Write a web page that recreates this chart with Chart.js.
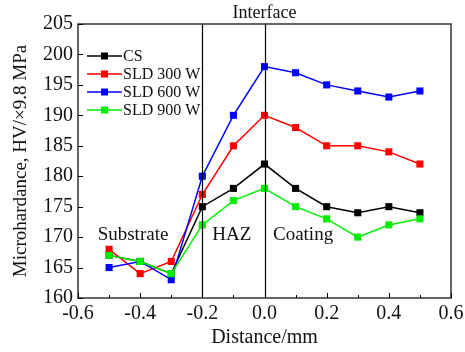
<!DOCTYPE html>
<html>
<head>
<meta charset="utf-8">
<script src="https://cdn.jsdelivr.net/npm/chart.js@4.4.0/dist/chart.umd.min.js"></script>
<style>
  html, body { margin: 0; padding: 0; background: #fff; }
  #wrap { width: 465px; height: 352px; }
</style>
</head>
<body>
<div id="wrap"><canvas id="chart" width="465" height="352"></canvas></div>
<script>
const distances = [-0.5, -0.4, -0.3, -0.2, -0.1, 0.0, 0.1, 0.2, 0.3, 0.4, 0.5];
const csValues = [167, 166, 164, 175, 178, 182, 178, 175, 174, 175, 174];
const sld300Values = [168, 164, 166, 177, 185, 190, 188, 185, 185, 184, 182];
const sld600Values = [165, 166, 163, 180, 190, 198, 197, 195, 194, 193, 194];
const sld900Values = [167, 166, 164, 172, 176, 178, 175, 173, 170, 172, 173];
const seriesNames = ['CS', 'SLD 300 W', 'SLD 600 W', 'SLD 900 W'];
const seriesColors = ['#000000', '#ff0000', '#0000ff', '#00ee00'];
const boundaries = [-0.2, 0.0];

const FONT = '"Liberation Serif", "Times New Roman", serif';

function toPoints(vals) {
    return vals.map((v, i) => ({ x: distances[i], y: v }));
}

const allValues = [csValues, sld300Values, sld600Values, sld900Values];

// frame, inward ticks, boundary lines, region labels, legend
const decorations = {
    id: 'decorations',
    afterDatasetsDraw(chart) {
        const ctx = chart.ctx;
        const a = chart.chartArea;
        const xs = chart.scales.x;
        const ys = chart.scales.y;
        ctx.save();

        // boundary lines
        ctx.strokeStyle = '#000';
        ctx.lineWidth = 1.2;
        boundaries.forEach(b => {
            const px = Math.round(xs.getPixelForValue(b)) + 0.5;
            ctx.beginPath();
            ctx.moveTo(px, a.top);
            ctx.lineTo(px, a.bottom);
            ctx.stroke();
        });

        // frame
        ctx.strokeStyle = '#333';
        ctx.lineWidth = 1.5;
        ctx.strokeRect(a.left, a.top, a.right - a.left, a.bottom - a.top);

        // inward ticks
        ctx.strokeStyle = '#000';
        ctx.lineWidth = 1;
        for (let v = -0.6; v <= 0.601; v += 0.1) {
            const px = Math.round(xs.getPixelForValue(v)) + 0.5;
            const major = Math.abs(Math.round(v * 10)) % 2 === 0;
            ctx.beginPath();
            ctx.moveTo(px, a.bottom);
            ctx.lineTo(px, a.bottom - (major ? 5 : 3));
            ctx.stroke();
        }
        for (let v = 160; v <= 205; v += 5) {
            const py = Math.round(ys.getPixelForValue(v)) + 0.5;
            ctx.beginPath();
            ctx.moveTo(a.left, py);
            ctx.lineTo(a.left + 5, py);
            ctx.stroke();
        }

        // region labels
        ctx.fillStyle = '#111';
        ctx.font = '19px ' + FONT;
        ctx.textAlign = 'center';
        ctx.textBaseline = 'middle';
        ctx.fillText('Substrate', xs.getPixelForValue(-0.423), ys.getPixelForValue(170.3));
        ctx.fillText('HAZ', xs.getPixelForValue(-0.105), ys.getPixelForValue(170.3));
        ctx.fillText('Coating', xs.getPixelForValue(0.124), ys.getPixelForValue(170.3));
        ctx.font = '18px ' + FONT;
        ctx.textBaseline = 'alphabetic';
        ctx.fillText('Interface', xs.getPixelForValue(0.0), a.top - 6);

        // legend
        ctx.font = '16px ' + FONT;
        ctx.textAlign = 'left';
        ctx.textBaseline = 'middle';
        seriesNames.forEach((name, i) => {
            const y = a.top + 32 + i * 18;
            const x0 = a.left + 9;
            ctx.strokeStyle = seriesColors[i];
            ctx.lineWidth = 1.5;
            ctx.beginPath();
            ctx.moveTo(x0, y);
            ctx.lineTo(x0 + 35, y);
            ctx.stroke();
            ctx.fillStyle = seriesColors[i];
            ctx.fillRect(x0 + 14, y - 3.5, 7, 7);
            ctx.fillStyle = '#111';
            ctx.fillText(name, x0 + 36, y + 1);
        });

        ctx.restore();
    }
};

new Chart(document.getElementById('chart').getContext('2d'), {
    type: 'scatter',
    data: {
        datasets: seriesNames.map((name, i) => ({
            label: name,
            data: toPoints(allValues[i]),
            showLine: true,
            borderColor: seriesColors[i],
            backgroundColor: seriesColors[i],
            borderWidth: 1.5,
            pointStyle: 'rect',
            pointRadius: 5,
            pointBorderWidth: 0,
            tension: 0,
            order: seriesNames.length - 1 - i
        }))
    },
    options: {
        responsive: false,
        animation: false,
        layout: { padding: { top: 24, right: 14, left: 0, bottom: 0 } },
        plugins: {
            legend: { display: false },
            tooltip: { enabled: false }
        },
        scales: {
            x: {
                type: 'linear',
                min: -0.6,
                max: 0.6,
                grid: { display: false, drawTicks: false },
                border: { display: false },
                ticks: {
                    stepSize: 0.2,
                    padding: 4,
                    color: '#111',
                    font: { family: FONT, size: 20 },
                    callback: v => v.toFixed(1)
                },
                title: {
                    display: true,
                    text: 'Distance/mm',
                    color: '#111',
                    font: { family: FONT, size: 20 },
                    padding: { top: 0, bottom: 2 }
                },
                afterFit(scale) {
                    scale.height = 54;
                    scale.paddingLeft = 0;
                    scale.paddingRight = 0;
                }
            },
            y: {
                min: 160,
                max: 205,
                grid: { display: false, drawTicks: false },
                border: { display: false },
                ticks: {
                    stepSize: 5,
                    padding: 5,
                    color: '#111',
                    font: { family: FONT, size: 20 }
                },
                title: {
                    display: true,
                    text: 'Microhardance, HV/×9.8 MPa',
                    color: '#111',
                    font: { family: FONT, size: 19 },
                    padding: { top: 10, bottom: 0 }
                },
                afterFit(scale) {
                    scale.width = 78;
                    scale.paddingTop = 0;
                    scale.paddingBottom = 0;
                }
            }
        }
    },
    plugins: [decorations]
});
</script>
</body>
</html>
